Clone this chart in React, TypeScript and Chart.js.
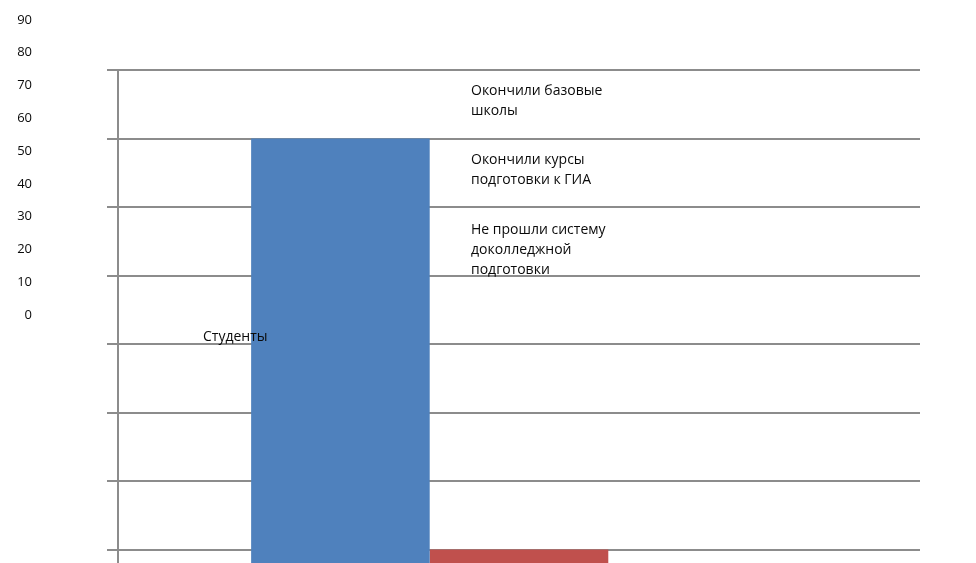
import React, { useEffect, useRef } from 'react';
import { Chart, registerables } from 'chart.js';

Chart.register(...registerables);

const categories = ['Студенты'];
const seriesNames = [
  'Окончили базовые школы',
  'Окончили курсы подготовки к ГИА',
  'Не прошли систему доколледжной подготовки',
];
const seriesValues = [70, 10, 0];
const seriesColors = ['#4F81BD', '#C0504D', '#9BBB59'];
const gridTicks = [0, 10, 20, 30, 40, 50, 60, 70, 80];
const sideTicks = [0, 10, 20, 30, 40, 50, 60, 70, 80, 90];

const FONT_FAMILY = '"Open Sans", "Noto Sans", sans-serif';
const FONT_SIZE = 13;
const LABEL_FONT_SIZE = 14;
const GRID_COLOR = '#8c8c8c';
const TEXT_COLOR = '#0a0a0a';

function wrapText(ctx: CanvasRenderingContext2D, text: string, maxWidth: number): string[] {
  const words = text.split(' ');
  const lines: string[] = [];
  let cur = '';
  for (const w of words) {
    const test = cur ? cur + ' ' + w : w;
    if (ctx.measureText(test).width > maxWidth && cur) {
      lines.push(cur);
      cur = w;
    } else {
      cur = test;
    }
  }
  if (cur) lines.push(cur);
  return lines;
}

const textPlugin = {
  id: 'textPlugin',
  afterDatasetsDraw(chart: any) {
    const { ctx, chartArea } = chart;
    ctx.save();
    ctx.font = `${LABEL_FONT_SIZE}px ${FONT_FAMILY}`;
    ctx.fillStyle = TEXT_COLOR;
    ctx.textAlign = 'left';
    ctx.textBaseline = 'middle';
    // legend entries
    const blockTops = [21, 90, 160];
    const lineH = 20;
    const lx = chartArea.left + 353;
    seriesNames.forEach((name, i) => {
      const lines = wrapText(ctx, name, 160);
      lines.forEach((ln, j) => {
        ctx.fillText(ln, lx, chartArea.top + blockTops[i] + j * lineH);
      });
    });
    // category label
    ctx.fillText(categories[0], chartArea.left + 85, chartArea.top + 267);
    ctx.restore();
  },
};

export default function App() {
  const mainRef = useRef<HTMLCanvasElement>(null);
  const sideRef = useRef<HTMLCanvasElement>(null);

  useEffect(() => {
    if (!mainRef.current || !sideRef.current) return;
    const main = new Chart(mainRef.current, {
      type: 'bar',
      data: {
        labels: categories,
        datasets: seriesNames.map((name, i) => ({
          label: name,
          data: [seriesValues[i]],
          backgroundColor: seriesColors[i],
          borderWidth: 0,
          categoryPercentage: 0.668,
          barPercentage: 1,
        })),
      },
      options: {
        responsive: false,
        animation: false,
        devicePixelRatio: 1,
        layout: { padding: { left: 0, top: 70, right: 56, bottom: 82 } },
        plugins: { legend: { display: false }, tooltip: { enabled: false } },
        scales: {
          x: { type: 'category', display: false },
          y: {
            min: 0,
            max: 80,
            afterBuildTicks: (s: any) => {
              s.ticks = gridTicks.map((v) => ({ value: v }));
            },
            afterFit: (s: any) => {
              s.width = 118;
            },
            ticks: { display: false },
            grid: { color: GRID_COLOR, lineWidth: 2, tickLength: 11, drawTicks: true },
            border: { color: GRID_COLOR, width: 2 },
          },
        },
      },
      plugins: [textPlugin],
    } as any);

    const side = new Chart(sideRef.current, {
      type: 'bar',
      data: { labels: [], datasets: [] },
      options: {
        responsive: false,
        animation: false,
        devicePixelRatio: 1,
        layout: { padding: { left: 0, top: 20, right: 0, bottom: 25 } },
        plugins: { legend: { display: false }, tooltip: { enabled: false } },
        scales: {
          x: { display: false },
          y: {
            min: 0,
            max: 90,
            afterBuildTicks: (s: any) => {
              s.ticks = sideTicks.map((v) => ({ value: v }));
            },
            afterFit: (s: any) => {
              s.width = 32;
            },
            ticks: {
              padding: 0,
              color: TEXT_COLOR,
              font: { family: FONT_FAMILY, size: FONT_SIZE },
            },
            grid: { display: false, drawTicks: false },
            border: { display: false },
          },
        },
      },
    } as any);

    return () => {
      main.destroy();
      side.destroy();
    };
  }, []);

  return (
    <div style={{ position: 'fixed', left: 0, top: 0, width: 976, height: 563, overflow: 'hidden', background: '#fff' }}>
      <canvas ref={mainRef} width={976} height={700} style={{ position: 'absolute', left: 0, top: 0 }} />
      <canvas ref={sideRef} width={40} height={340} style={{ position: 'absolute', left: 0, top: 0 }} />
    </div>
  );
}
